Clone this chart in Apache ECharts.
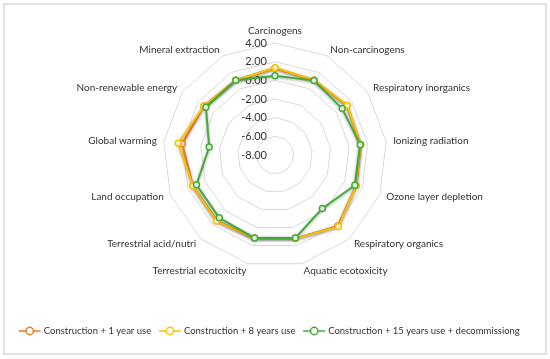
<!DOCTYPE html>
<html><head><meta charset="utf-8">
<script src="https://cdn.jsdelivr.net/npm/echarts@6/dist/echarts.min.js"></script>
<style>html,body{margin:0;padding:0;background:#fff}#c{width:550px;height:359px}</style>
</head><body><div id="c"></div>
<script>
const indicators = ["Carcinogens","Non-carcinogens","Respiratory inorganics","Ionizing radiation","Ozone layer depletion","Respiratory organics","Aquatic ecotoxicity","Terrestrial ecotoxicity","Terrestrial acid/nutri","Land occupation","Global warming","Non-renewable energy","Mineral extraction"];
const seriesNames = ["Construction + 1 year use","Construction + 8 years use","Construction + 15 years use + decommissiong"];
const s1 = [1.3, 1.05, 1.35, 1.25, 1.3, 2.15, 1.2, 1.2, 1.4, 1.4, 2.0, 1.25, 1.05];
const s8 = [1.35, 1.05, 1.4, 1.25, 1.3, 2.25, 1.2, 1.2, 1.45, 1.4, 2.45, 1.25, 1.05];
const s15 = [0.5, 1.0, 0.75, 1.2, 1.15, -0.35, 1.15, 1.15, 1.0, 1.0, -0.9, 1.0, 1.05];
const axisMin = -8, axisMax = 4;
const colors = ["#F07C26", "#FFC000", "#43AA3A"];
const fills = ["#FDE3CF", "#FFF3C4", "#DDF3D5"];

// ECharts radar runs counter-clockwise; reorder so the chart reads clockwise
const order = [0].concat(indicators.map((_, i) => i).slice(1).reverse());
const reorder = arr => order.map(i => arr[i]);

const chart = echarts.init(document.getElementById('c'), null, {renderer:'canvas'});
const font = 'Lato, "Open Sans", sans-serif';
const legendIcon = 'path://M0,5 L8,5 M16,5 L24,5 M8,5 A4,4 0 1,1 16,5 A4,4 0 1,1 8,5 Z';
chart.setOption({
  animation: false,
  graphic: [{type:'rect', shape:{x:4, y:4, width:542, height:350}, style:{fill:'none', stroke:'#D9D9D9', lineWidth:1.5}, z:-1}],
  legend: {
    top: 321, left: 13, itemWidth: 22, itemHeight: 8, itemGap: 7,
    textStyle: {fontFamily: font, fontSize: 9.5, color: '#333', padding: [0, 0, 0, -2]},
    data: seriesNames.map((n, i) => ({name: n, icon: legendIcon,
      itemStyle: {color: '#fff', borderColor: colors[i], borderWidth: 1.5}}))
  },
  radar: {
    center: [275, 155], radius: 112, startAngle: 90,
    shape: 'polygon', splitNumber: 6, nameGap: 7,
    axisName: {color: '#333', fontFamily: font, fontSize: 10},
    axisLine: {show: false},
    axisTick: {show: false},
    splitLine: {lineStyle: {color: '#D9D9D9', width: 1}},
    splitArea: {show: false},
    axisLabel: {show: true, color: '#333', fontFamily: font, fontSize: 11, margin: 8,
      formatter: v => Number(v).toFixed(2)},
    indicator: reorder(indicators).map((n, i) => i === 0
      ? {name: n, min: axisMin, max: axisMax}
      : {name: n, min: axisMin, max: axisMax, axisLabel: {show: false}})
  },
  series: [{
    type: 'radar',
    data: [s1, s8, s15].map((d, i) => ({
      name: seriesNames[i], value: reorder(d),
      symbol: 'circle', symbolSize: 6,
      lineStyle: {color: colors[i], width: 2, shadowColor: 'rgba(0,0,0,0.35)', shadowBlur: 3, shadowOffsetY: 1},
      itemStyle: {color: fills[i], borderColor: colors[i], borderWidth: 1.5}
    }))
  }],
  color: colors
});
</script></body></html>
